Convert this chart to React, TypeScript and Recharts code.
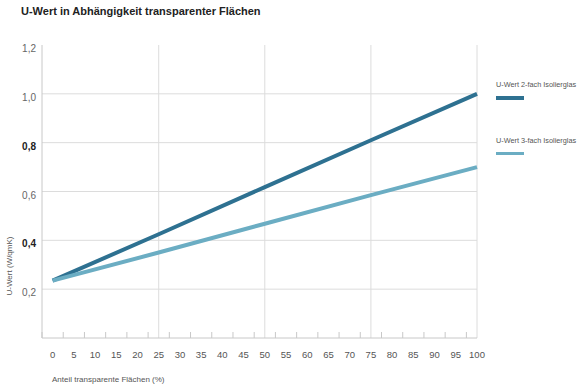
import React from "react";
import { LineChart, Line, XAxis, YAxis, ReferenceLine, Legend } from "recharts";

const categories = [0, 25, 50, 75, 100];
const zweifach = [0.235, 0.425, 0.618, 0.81, 1.0];
const dreifach = [0.235, 0.35, 0.468, 0.585, 0.7];
const seriesNames = ["U-Wert 2-fach Isolierglas", "U-Wert 3-fach Isolierglas"];
const xTickLabels = [0, 5, 10, 15, 20, 25, 30, 35, 40, 45, 50, 55, 60, 65, 70, 75, 80, 85, 90, 95, 100];
const xTickMarks = [-2.5, 2.5, 7.5, 12.5, 17.5, 22.5, 27.5, 32.5, 37.5, 42.5, 47.5, 52.5, 57.5, 62.5, 67.5, 72.5, 77.5, 82.5, 87.5, 92.5, 97.5];
const yTicks = [0.2, 0.4, 0.6, 0.8, 1.0, 1.2];
const yBold = [0.4, 0.8];
const gridY = [0.2, 0.4, 0.6, 0.8, 1.0];
const gridX = [25, 50, 75, 100];

const data = categories.map((c, i) => ({ x: c, a: zweifach[i], b: dreifach[i] }));
const allXTicks = [...xTickMarks, ...xTickLabels].sort((p, q) => p - q);

const FONT = "'Liberation Sans', Arial, Helvetica, sans-serif";
const GRID = "#dcdcdc";
const DARK = "#2e7191";
const LIGHT = "#6badc3";

const XTick = (props: any) => {
  const { x, y, payload } = props;
  const v = payload.value;
  if (xTickMarks.includes(v)) {
    return <line x1={x} y1={y} x2={x} y2={y - 6} stroke="#c8c8c8" strokeWidth={1} />;
  }
  return (
    <text x={x} y={y + 20} textAnchor="middle" fontSize={9.5} fill="#555" fontFamily={FONT}>
      {String(v)}
    </text>
  );
};

const YTick = (props: any) => {
  const { x, y, payload } = props;
  const v = payload.value;
  const bold = yBold.includes(v);
  return (
    <text
      x={x}
      y={y + 7}
      textAnchor="end"
      fontSize={10}
      fontWeight={bold ? 700 : 400}
      fill={bold ? "#222" : "#666"}
      fontFamily={FONT}
    >
      {v.toFixed(1).replace(".", ",")}
    </text>
  );
};

const renderLegend = (props: any) => {
  const { payload } = props;
  return (
    <div style={{ fontFamily: FONT }}>
      {(payload || []).map((p: any, i: number) => (
        <div key={i} style={{ marginBottom: 36 }}>
          <div style={{ fontSize: 7.3, color: "#555", lineHeight: "10px", whiteSpace: "nowrap" }}>{p.value}</div>
          <div style={{ width: 28, height: 3.5, background: p.color, marginTop: 6 }} />
        </div>
      ))}
    </div>
  );
};

export default function App() {
  return (
    <div style={{ position: "absolute", left: 0, top: 0, width: 584, height: 384, background: "#fff", fontFamily: FONT }}>
      <div
        style={{
          position: "absolute",
          left: 21,
          top: 5,
          fontSize: 11,
          fontWeight: 700,
          color: "#222",
          fontFamily: FONT,
          whiteSpace: "nowrap",
          zIndex: 2,
        }}
      >
        U-Wert in Abhängigkeit transparenter Flächen
      </div>
      <LineChart width={584} height={384} data={data} margin={{ top: 45, right: 19, bottom: 0, left: 0 }}>
        {gridY.map((g) => (
          <ReferenceLine key={"gy" + g} y={g} stroke={GRID} strokeWidth={1} />
        ))}
        {gridX.map((g) => (
          <ReferenceLine key={"gx" + g} x={g} stroke={GRID} strokeWidth={1} />
        ))}
        <XAxis
          dataKey="x"
          type="number"
          domain={[-2.5, 100]}
          ticks={allXTicks}
          interval={0}
          tickSize={0}
          tickMargin={0}
          tickLine={false}
          tick={<XTick />}
          axisLine={{ stroke: "#c8c8c8" }}
          height={46}
          label={{
            content: () => (
              <text x={52} y={382} fontSize={8} fill="#555" fontFamily={FONT}>
                Anteil transparente Flächen (%)
              </text>
            ),
          }}
        />
        <YAxis
          type="number"
          domain={[0, 1.2]}
          ticks={yTicks}
          interval={0}
          width={42}
          tickSize={0}
          tickMargin={6}
          tickLine={false}
          tick={<YTick />}
          axisLine={{ stroke: "#c8c8c8" }}
          label={{
            content: () => (
              <text
                x={9}
                y={266}
                transform="rotate(-90 9 266)"
                textAnchor="middle"
                dominantBaseline="central"
                fontSize={8}
                fill="#555"
                fontFamily={FONT}
              >
                U-Wert (W/qmK)
              </text>
            ),
          }}
        />
        <Line
          type="linear"
          dataKey="a"
          name={seriesNames[0]}
          stroke={DARK}
          strokeWidth={4}
          dot={false}
          activeDot={false}
          isAnimationActive={false}
        />
        <Line
          type="linear"
          dataKey="b"
          name={seriesNames[1]}
          stroke={LIGHT}
          strokeWidth={4}
          dot={false}
          activeDot={false}
          isAnimationActive={false}
        />
        <Legend
          layout="horizontal"
          verticalAlign="middle"
          align="right"
          content={renderLegend}
          wrapperStyle={{ position: "absolute", left: 496, top: 80, width: 88, right: "auto", bottom: "auto" }}
        />
      </LineChart>
    </div>
  );
}
